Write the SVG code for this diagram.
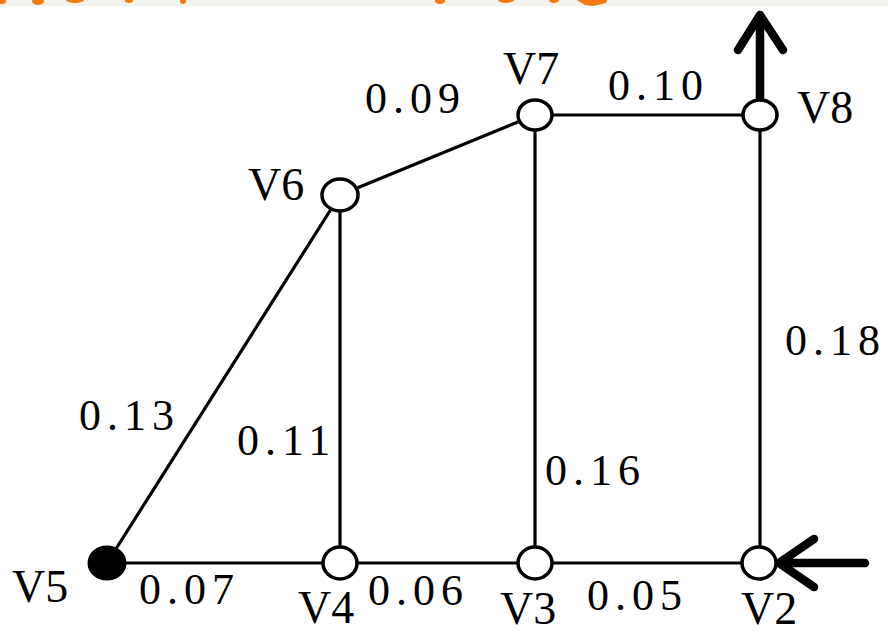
<svg xmlns="http://www.w3.org/2000/svg" width="888" height="633" viewBox="0 0 888 633">
<style>
.edge{stroke:#000;stroke-width:3.2;fill:none}
.node{fill:#fff;stroke:#000;stroke-width:3.5}
.nodef{fill:#000;stroke:#000;stroke-width:3}
.arrow{stroke:#000;stroke-width:8.5;fill:none;stroke-linecap:round;stroke-linejoin:round}
.vl{font-family:"Liberation Serif",serif;font-size:46px;fill:#000}
.wl{font-family:"Liberation Serif",serif;font-size:44px;fill:#000;letter-spacing:6px}
.orange{fill:#f57a10}
</style>
<rect x="0" y="0" width="888" height="633" fill="#fff"/>
<rect x="0" y="0" width="888" height="6" fill="#f3f2ec"/>
<g id="banner">
<ellipse class="orange" cx="2" cy="1" rx="4" ry="3"/>
<ellipse class="orange" cx="38" cy="1" rx="6" ry="4"/>
<ellipse class="orange" cx="75" cy="0" rx="9" ry="3"/>
<ellipse class="orange" cx="129" cy="0" rx="4" ry="3"/>
<ellipse class="orange" cx="183" cy="1" rx="3" ry="3"/>
<ellipse class="orange" cx="440" cy="1" rx="5" ry="3"/>
<ellipse class="orange" cx="506" cy="0" rx="8" ry="3"/>
<ellipse class="orange" cx="554" cy="0" rx="5" ry="3"/>
<path class="orange" d="M577 0 L607 0 L606 3 L593 6 L585 5 Z"/>
</g>
<g id="connectors">
<line class="edge" x1="107" y1="563" x2="340" y2="563"/>
<line class="edge" x1="340" y1="563" x2="535" y2="563"/>
<line class="edge" x1="535" y1="563" x2="759" y2="563"/>
<line class="edge" x1="107" y1="563" x2="340" y2="195"/>
<line class="edge" x1="340" y1="195" x2="340" y2="563"/>
<line class="edge" x1="340" y1="195" x2="535" y2="115"/>
<line class="edge" x1="535" y1="115" x2="535" y2="563"/>
<line class="edge" x1="535" y1="115" x2="760" y2="115"/>
<line class="edge" x1="760" y1="115" x2="760" y2="563"/>
<path class="arrow" d="M760 104 L760 15 M738 50 L760 15 L783 50"/>
<path class="arrow" d="M865 563 L779 563 M814 539 L779 563 L814 587"/>
</g>
<g id="V5"><ellipse class="nodef" cx="107" cy="563" rx="18" ry="16"/><text class="vl" x="12" y="602">V5</text></g>
<g id="V4"><ellipse class="node" cx="340" cy="563" rx="17" ry="16"/><text class="vl" x="298" y="623">V4</text></g>
<g id="V3"><ellipse class="node" cx="535" cy="563" rx="17" ry="16"/><text class="vl" x="500" y="624">V3</text></g>
<g id="V2"><ellipse class="node" cx="759" cy="563" rx="17" ry="16"/><text class="vl" x="741" y="624">V2</text></g>
<g id="V6"><ellipse class="node" cx="340" cy="195" rx="18" ry="16"/><text class="vl" x="248" y="200">V6</text></g>
<g id="V7"><ellipse class="node" cx="535" cy="115" rx="17" ry="15"/><text class="vl" x="503" y="84">V7</text></g>
<g id="V8"><ellipse class="node" cx="760" cy="115" rx="17" ry="15"/><text class="vl" x="797" y="123">V8</text></g>
<g id="weights">
<text class="wl" x="365" y="113">0.09</text>
<text class="wl" x="608" y="100">0.10</text>
<text class="wl" x="785" y="355">0.18</text>
<text class="wl" x="79" y="430">0.13</text>
<text class="wl" x="237" y="455">0.11</text>
<text class="wl" x="545" y="485">0.16</text>
<text class="wl" x="139" y="604">0.07</text>
<text class="wl" x="368" y="605">0.06</text>
<text class="wl" x="587" y="610">0.05</text>
</g>
</svg>
